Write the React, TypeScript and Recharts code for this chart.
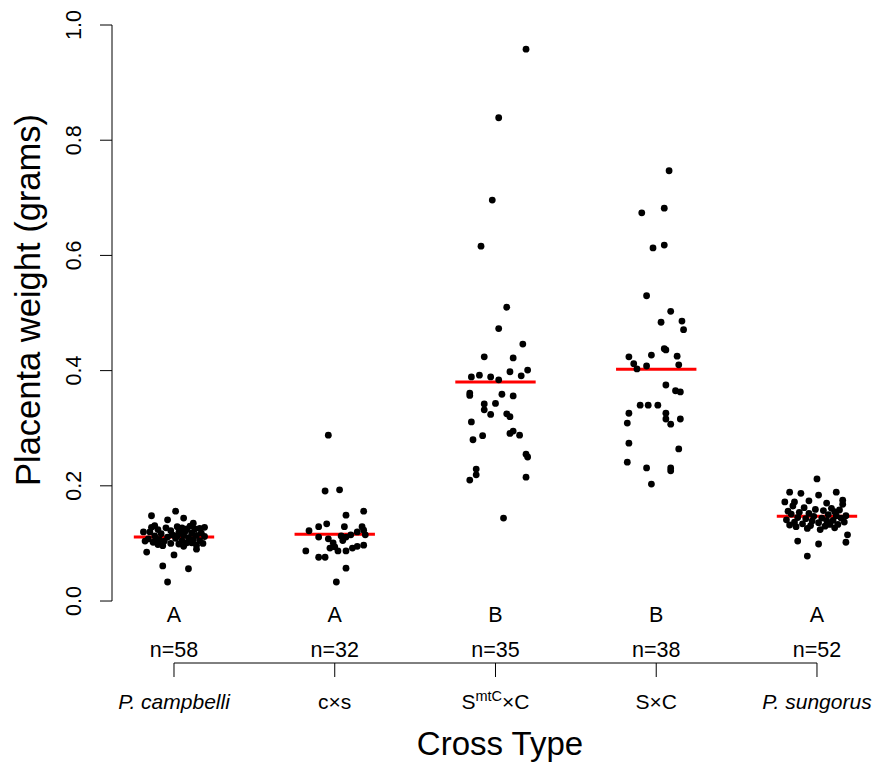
import React from 'react';
import { ComposedChart, Scatter, XAxis, YAxis, ReferenceLine } from 'recharts';

// Categories and labels
const crossTypes = ['P. campbelli', 'c×s', 'SmtC×C', 'S×C', 'P. sungorus'];
const groupLetters = ['A', 'A', 'B', 'B', 'A'];
const sampleSizes = [58, 32, 35, 38, 52];
const yTicks = [0, 0.2, 0.4, 0.6, 0.8, 1.0];
const xTicks = [1, 2, 3, 4, 5];

// [jitter offset (category units), placenta weight (g)]
const campbelli: [number, number][] = [
  [0.01, 0.156], [-0.14, 0.148], [0.06, 0.144], [-0.04, 0.141], [0.12, 0.135], [-0.14, 0.128],
  [0.19, 0.128], [-0.19, 0.12], [0.08, 0.125], [-0.17, 0.085], [0.14, 0.09], [0.0, 0.08],
  [-0.07, 0.061], [0.09, 0.056], [-0.04, 0.033],
  [-0.12, 0.131], [0.02, 0.129], [0.1, 0.13], [-0.05, 0.127], [0.16, 0.126], [0.05, 0.127],
  [-0.1, 0.124], [0.13, 0.125], [-0.02, 0.122], [0.07, 0.121], [-0.15, 0.12], [0.03, 0.119],
  [0.11, 0.118], [-0.08, 0.117], [0.17, 0.118], [-0.01, 0.115], [0.06, 0.114], [-0.12, 0.113],
  [0.14, 0.114], [-0.04, 0.111], [0.09, 0.11], [-0.16, 0.108], [0.01, 0.109], [0.12, 0.107],
  [-0.09, 0.106], [0.05, 0.105], [-0.06, 0.104], [0.16, 0.105], [-0.13, 0.102], [0.08, 0.101],
  [-0.02, 0.1], [0.11, 0.101], [-0.1, 0.098], [0.03, 0.099], [0.14, 0.097], [-0.07, 0.096],
  [0.06, 0.095], [0.18, 0.1], [-0.18, 0.104], [0.19, 0.112], [0.04, 0.118], [-0.11, 0.108],
  [0.02, 0.113],
];

const cxs: [number, number][] = [
  [-0.04, 0.288], [-0.06, 0.191], [0.03, 0.193], [0.07, 0.149], [0.18, 0.156], [-0.1, 0.129],
  [-0.05, 0.134], [-0.16, 0.122], [0.06, 0.129], [0.17, 0.129], [0.18, 0.123], [0.14, 0.12],
  [-0.1, 0.111], [0.04, 0.113], [0.07, 0.111], [0.1, 0.115], [-0.04, 0.108], [0.19, 0.115],
  [-0.01, 0.101], [-0.03, 0.092], [0.0, 0.094], [0.02, 0.087], [-0.18, 0.087], [0.07, 0.087],
  [0.11, 0.092], [0.14, 0.095], [0.18, 0.097], [-0.1, 0.076], [-0.06, 0.076], [0.07, 0.057],
  [0.01, 0.033], [0.05, 0.105],
];

const smtcxc: [number, number][] = [
  [0.19, 0.958], [0.02, 0.839], [-0.02, 0.696], [-0.09, 0.616], [0.07, 0.51], [0.02, 0.473],
  [0.17, 0.446], [-0.07, 0.424], [0.11, 0.422], [0.2, 0.401], [0.09, 0.398], [0.16, 0.391],
  [-0.1, 0.392], [-0.15, 0.389], [-0.03, 0.389], [0.02, 0.384], [-0.16, 0.361], [-0.16, 0.357],
  [0.04, 0.359], [0.11, 0.356], [-0.07, 0.342], [0.0, 0.343], [-0.07, 0.332], [-0.03, 0.324],
  [0.07, 0.325], [0.09, 0.32], [-0.15, 0.311], [-0.08, 0.287], [-0.14, 0.28], [0.11, 0.295],
  [0.09, 0.291], [0.15, 0.288], [0.19, 0.255], [0.2, 0.25], [-0.12, 0.229], [-0.12, 0.219],
  [-0.16, 0.21], [0.19, 0.215], [0.05, 0.144],
];

const sxc: [number, number][] = [
  [0.08, 0.747], [0.05, 0.682], [-0.09, 0.674], [0.05, 0.618], [-0.02, 0.613], [-0.06, 0.53],
  [0.09, 0.503], [0.03, 0.484], [0.16, 0.486], [0.17, 0.471], [0.05, 0.438], [0.06, 0.436],
  [-0.17, 0.424], [-0.03, 0.427], [0.13, 0.425], [-0.14, 0.412], [-0.12, 0.403], [-0.06, 0.408],
  [0.14, 0.41], [0.06, 0.375], [0.12, 0.365], [0.15, 0.363], [-0.1, 0.34], [-0.05, 0.34],
  [0.01, 0.34], [-0.17, 0.326], [0.06, 0.326], [-0.18, 0.309], [0.06, 0.316], [0.09, 0.307],
  [0.15, 0.316], [-0.17, 0.274], [0.14, 0.264], [-0.18, 0.241], [-0.06, 0.231], [0.09, 0.231],
  [0.09, 0.226], [-0.03, 0.203],
];

const sungorus: [number, number][] = [
  [0.0, 0.212], [-0.17, 0.189], [-0.1, 0.187], [0.01, 0.184], [0.12, 0.189], [-0.2, 0.172],
  [-0.14, 0.172], [-0.05, 0.174], [0.06, 0.17], [0.16, 0.175], [0.16, 0.168], [-0.12, 0.104],
  [0.01, 0.099], [0.19, 0.115], [0.18, 0.102], [-0.06, 0.078],
  [-0.15, 0.165], [-0.08, 0.162], [0.09, 0.161], [-0.01, 0.159], [0.14, 0.158], [-0.18, 0.156],
  [0.04, 0.157], [-0.11, 0.154], [0.11, 0.155], [-0.05, 0.152], [0.07, 0.15], [-0.16, 0.151],
  [0.18, 0.148], [-0.02, 0.147], [0.12, 0.148], [-0.12, 0.145], [0.03, 0.144], [-0.07, 0.143],
  [0.15, 0.144], [-0.19, 0.141], [0.06, 0.14], [-0.03, 0.139], [0.1, 0.14], [-0.14, 0.137],
  [0.01, 0.136], [0.17, 0.137], [-0.09, 0.134], [0.08, 0.133], [-0.17, 0.132], [0.13, 0.133],
  [-0.04, 0.131], [0.05, 0.13], [-0.13, 0.129], [0.11, 0.127], [-0.06, 0.126], [0.02, 0.124],
];

const groups = [campbelli, cxs, smtcxc, sxc, sungorus];

const XMIN = 0.6143;
const XMAX = 5.3;
const YMIN = -0.1076;
const HALF = 0.25;
const FONT = '"Liberation Sans", Arial, Helvetica, sans-serif';
const TICK_FS = 21.5;

const toPoints = (arr: [number, number][], g: number) =>
  arr.map(([j, w]) => ({ x: g + j, y: w }));
const mean = (arr: [number, number][]) => arr.reduce((s, p) => s + p[1], 0) / arr.length;

const Dot = (props: any) => {
  const { cx, cy } = props;
  if (cx == null || cy == null) return null;
  return <circle cx={cx} cy={cy} r={3.4} fill="#000" />;
};

const YTick = (props: any) => {
  const { x, y, payload } = props;
  return (
    <text
      transform={`translate(${x - 19}, ${y}) rotate(-90)`}
      textAnchor="middle"
      fontSize={TICK_FS}
      fontFamily={FONT}
      fill="#000"
    >
      {Number(payload.value).toFixed(1)}
    </text>
  );
};

const XTick = (props: any) => {
  const { x, y, payload } = props;
  const i = Math.round(payload.value) - 1;
  const name = crossTypes[i];
  let label: React.ReactNode = name;
  const italic = i === 0 || i === 4;
  if (i === 2) {
    label = (
      <>
        <tspan>S</tspan>
        <tspan dy={-8} fontSize={14.5}>mtC</tspan>
        <tspan dy={8}>×C</tspan>
      </>
    );
  }
  return (
    <g fontFamily={FONT} fill="#000">
      <text x={x} y={y - 55} textAnchor="middle" fontSize={TICK_FS}>{groupLetters[i]}</text>
      <text x={x} y={y - 20} textAnchor="middle" fontSize={TICK_FS}>{`n=${sampleSizes[i]}`}</text>
      <text x={x} y={y + 32} textAnchor="middle" fontSize={21} fontStyle={italic ? 'italic' : 'normal'}>
        {label}
      </text>
    </g>
  );
};

export default function App() {
  return (
    <div style={{ position: 'absolute', left: 0, top: 0, width: 878, height: 763, background: '#fff' }}>
      <ComposedChart
        width={878}
        height={763}
        margin={{ top: 25, right: 12.8, bottom: 0, left: 0 }}
      >
        <XAxis
          type="number"
          dataKey="x"
          domain={[XMIN, XMAX]}
          allowDataOverflow
          ticks={xTicks}
          tick={<XTick />}
          tickSize={14}
          tickMargin={0}
          tickLine={{ stroke: '#000', strokeWidth: 1 }}
          axisLine={false}
          height={100}
          interval={0}
        />
        <YAxis
          type="number"
          dataKey="y"
          domain={[YMIN, 1]}
          allowDataOverflow
          ticks={yTicks}
          tick={<YTick />}
          tickSize={12}
          tickMargin={0}
          tickLine={{ stroke: '#000', strokeWidth: 1 }}
          axisLine={false}
          width={112}
          interval={0}
        />
        <ReferenceLine
          segment={[{ x: XMIN, y: 0 }, { x: XMIN, y: 1 }]}
          stroke="#000"
          strokeWidth={1}
          ifOverflow="visible"
        />
        <ReferenceLine
          segment={[{ x: 1, y: YMIN }, { x: 5, y: YMIN }]}
          stroke="#000"
          strokeWidth={1}
          ifOverflow="visible"
        />
        {groups.map((g, i) => (
          <Scatter
            key={`s${i}`}
            data={toPoints(g, i + 1)}
            dataKey="y"
            shape={<Dot />}
            isAnimationActive={false}
          />
        ))}
        {groups.map((g, i) => (
          <ReferenceLine
            key={`m${i}`}
            segment={[{ x: i + 1 - HALF, y: mean(g) }, { x: i + 1 + HALF, y: mean(g) }]}
            stroke="#ff0000"
            strokeWidth={3}
            ifOverflow="visible"
          />
        ))}
        <text
          transform="translate(40, 300) rotate(-90)"
          textAnchor="middle"
          fontSize={34.5}
          fontFamily={FONT}
          fill="#000"
        >
          Placenta weight (grams)
        </text>
        <text x={500} y={755} textAnchor="middle" fontSize={33} fontFamily={FONT} fill="#000">
          Cross Type
        </text>
      </ComposedChart>
    </div>
  );
}
